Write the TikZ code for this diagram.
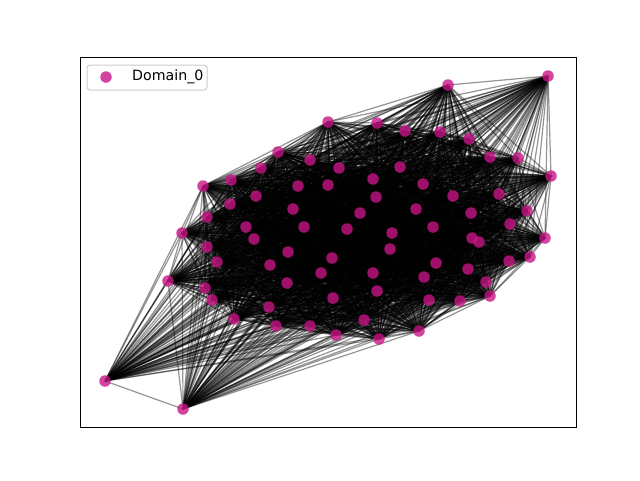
\documentclass[tikz,border=0pt]{standalone}
\usepackage{fontspec}
\setmainfont{DejaVu Sans}
\definecolor{nodecol}{RGB}{199,21,133}
\tikzset{
  edge/.style={draw=black, draw opacity=0.42, line width=1.2pt},
  vert/.style={circle, fill=nodecol, fill opacity=0.8, draw=none, inner sep=0pt, minimum size=11.5pt},
  frame/.style={draw=black, line width=0.9pt},
  legbox/.style={draw={rgb,255:red,204;green,204;blue,204}, fill=white, fill opacity=0.8, rounded corners=3pt, line width=1pt}
}
\begin{document}
\begin{tikzpicture}[x=1pt,y=-1pt]
\useasboundingbox (0,0) rectangle (640,480);
\foreach \k/\x/\y in {1/448/85,2/548/76,3/328/122,4/377/123,5/405/131,6/440/132,7/469/139,8/490/157,9/518/158,10/551/176,
11/278/152,12/310/160,13/261/168,14/231/180,15/203/186,16/298/186,17/256/196,18/230/204,19/293/209,20/207/217,
21/339/168,22/400/167,23/373/179,24/328/185,25/423/184,26/376/197,27/360/213,28/416/209,29/453/196,30/499/194,
31/471/213,32/527/211,33/347/229,34/392/233,35/433/227,36/510/224,37/472/238,38/479/242,39/545/238,40/390/249,
41/436/263,42/509/261,43/530/257,44/468/269,45/424/277,46/486/282,47/490/296,48/429/300,49/460/301,50/419/331,
51/332/258,52/321/273,53/373/273,54/333/298,55/377/291,56/364/320,57/336/335,58/379/339,59/304/227,60/288/252,
61/287/283,62/310/326,63/276/326,64/182/233,65/246/227,66/254/239,67/207/247,68/217/262,69/270/265,70/168/281,
71/205/288,72/212/300,73/269/307,74/234/319,75/105/381,76/183/409}
  \coordinate (p\k) at (\x,\y);
\foreach \i in {1,...,75}{
  \pgfmathtruncatemacro\nxt{\i+1}
  \foreach \j in {\nxt,...,76}
    \draw[edge] (p\i) -- (p\j);
}
\foreach \k in {1,...,76}
  \node[vert] (v\k) at (p\k) {};
\draw[frame] (80,57) rectangle (576,427);
\draw[legbox] (87,65) rectangle (207,90);
\node[vert] (legmark) at (106,77) {};
\node[anchor=west, font=\fontsize{14.2}{16}\selectfont, inner sep=0pt] (legtext) at (132,77) {Domain\_0};
\end{tikzpicture}
\end{document}
